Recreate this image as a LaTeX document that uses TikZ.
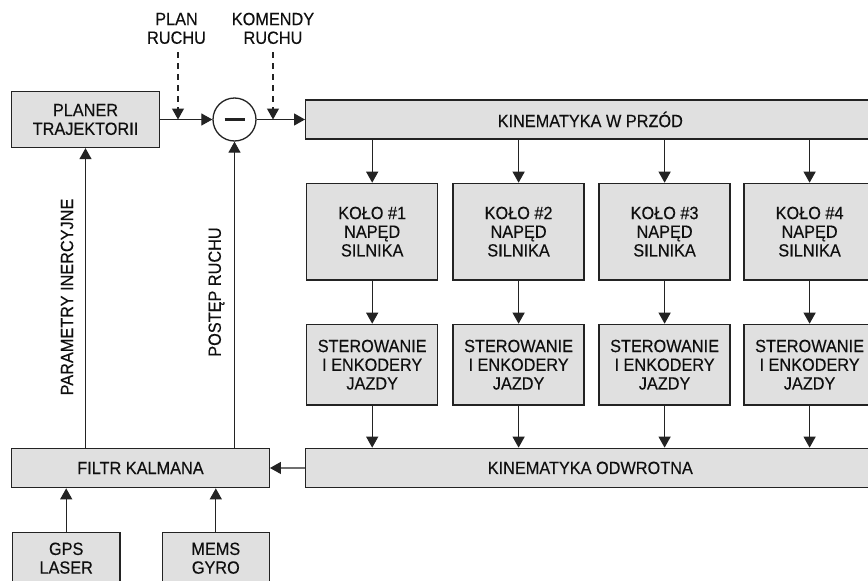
\documentclass[tikz,border=0pt]{standalone}
\usepackage{fontspec}
\setmainfont{Liberation Sans}[FakeStretch=0.92,FakeBold=0.25]
\usetikzlibrary{arrows.meta}
\definecolor{boxfill}{RGB}{224,224,224}
\definecolor{linec}{RGB}{35,35,35}
\definecolor{txtc}{RGB}{15,15,15}
\newcommand{\dfs}{\fontsize{17.7}{18.7}\selectfont}
\tikzset{
  box/.style={draw=linec, fill=boxfill, line width=1.3pt, align=center, inner sep=0pt, text=txtc, font=\dfs},
  lbl/.style={align=center, inner sep=0pt, text=txtc, font=\dfs},
  arr/.style={-{Triangle[length=11pt,width=12pt]}, line width=1.2pt, draw=linec},
  dasharr/.style={arr, dash pattern=on 6pt off 5pt},
}
\begin{document}
\begin{tikzpicture}[x=1pt,y=-1pt]
\useasboundingbox (0,0) rectangle (868,581);
\fill[white] (0,0) rectangle (868,581);

\node[box, minimum width=147.5pt, minimum height=56pt] (planer) at (85.5,119.5) {PLANER\\TRAJEKTORII};
\node[circle, draw=linec, fill=white, line width=1.3pt, minimum size=43pt, inner sep=0pt] (circ) at (234.5,119.5) {};
\draw[linec, line width=3.5pt] ([xshift=-10pt]circ.center) -- ([xshift=10pt]circ.center);
\node[box, minimum width=569.3pt, minimum height=39pt] (kwp) at (590.3,119.5) {KINEMATYKA W PRZÓD};

\foreach \i/\x in {1/372.2,2/518.6,3/664.6,4/809.6} {
  \node[box, minimum width=131pt, minimum height=96.7pt] (kolo\i) at (\x,231.7) {KOŁO \#\i\\NAPĘD\\SILNIKA};
  \node[box, minimum width=131pt, minimum height=80.7pt] (ster\i) at (\x,364.7) {STEROWANIE\\I ENKODERY\\JAZDY};
}
\node[box, minimum width=569.3pt, minimum height=39.2pt] (ko) at (590.3,467.9) {KINEMATYKA ODWROTNA};
\node[box, minimum width=257.6pt, minimum height=39.4pt] (filtr) at (140.5,468) {FILTR KALMANA};
\node[box, minimum width=107.7pt, minimum height=51pt] (gps) at (66.2,558.2) {GPS\\LASER};
\node[box, minimum width=107pt, minimum height=51pt] (mems) at (215.8,558.2) {MEMS\\GYRO};

\node[lbl] (plan) at (176.5,28.4) {PLAN\\RUCHU};
\node[lbl] (kom) at (273,28.4) {KOMENDY\\RUCHU};
\coordinate (pl0) at (178,52);
\coordinate (pl1) at (178,119.5);
\coordinate (km0) at (273,52);
\coordinate (km1) at (273,119.5);

\node[lbl, rotate=90] (par) at (67,297) {PARAMETRY INERCYJNE};
\node[lbl, rotate=90] (pos) at (216.5,292) {POSTĘP RUCHU};

\draw[arr] (planer.east) -- (circ.west);
\draw[arr] (circ.east) -- (kwp.west);
\draw[dasharr] (pl0) -- (pl1);
\draw[dasharr] (km0) -- (km1);

\foreach \i in {1,2,3,4} {
  \draw[arr] (kwp.south -| kolo\i.north) -- (kolo\i.north);
  \draw[arr] (kolo\i.south) -- (ster\i.north);
  \draw[arr] (ster\i.south) -- (ko.north -| ster\i.south);
}
\draw[arr] (ko.west) -- (filtr.east);
\draw[arr] (filtr.north -| planer.south) -- (planer.south);
\draw[arr] (filtr.north -| circ.south) -- (circ.south);
\draw[arr] (gps.north) -- (gps.north |- filtr.south);
\draw[arr] (mems.north) -- (mems.north |- filtr.south);
\end{tikzpicture}
\end{document}
